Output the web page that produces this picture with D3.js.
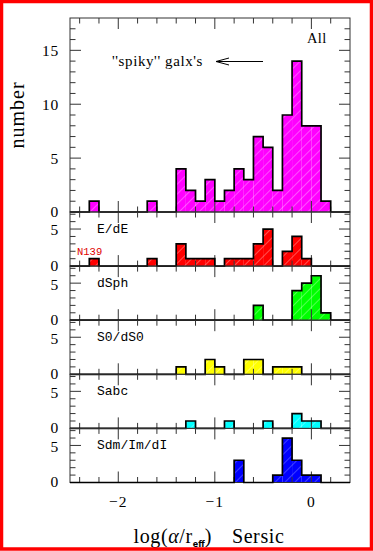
<!DOCTYPE html>
<html lang="en">
<head>
<meta charset="UTF-8">
<title>Sersic histograms</title>
<script src="https://d3js.org/d3.v7.min.js"></script>
<style>
    body { margin: 0; background: #fff; }
    svg { display: block; }
    .tickLabel { font-family: "Liberation Serif", "DejaVu Serif", serif; font-size: 15.5px; }
    .panelLabel { font-family: "Liberation Mono", "DejaVu Sans Mono", monospace; font-size: 13px; }
</style>
</head>
<body>
<svg width="373" height="551"></svg>
<script>
    // lower edge of each 0.1-wide bin
    const binLo = [-2.5, -2.4, -2.3, -2.2, -2.1, -2.0, -1.9, -1.8, -1.7, -1.6, -1.5, -1.4, -1.3, -1.2, -1.1,
        -1.0, -0.9, -0.8, -0.7, -0.6, -0.5, -0.4, -0.3, -0.2, -0.1, 0.0, 0.1, 0.2, 0.3];
    const binWidth = 0.1;

    const countsAll  = [0, 0, 1, 0, 0, 0, 0, 0, 1, 0, 0, 4, 2, 1, 3, 1, 2, 4, 3, 7, 6, 2, 9, 14, 8, 8, 1, 0, 0];
    const countsEdE  = [0, 0, 1, 0, 0, 0, 0, 0, 1, 0, 0, 3, 1, 1, 1, 0, 1, 1, 1, 3, 5, 0, 2, 4, 1, 0, 0, 0, 0];
    const countsDSph = [0, 0, 0, 0, 0, 0, 0, 0, 0, 0, 0, 0, 0, 0, 0, 0, 0, 0, 0, 2, 0, 0, 0, 4, 5, 6, 1, 0, 0];
    const countsS0   = [0, 0, 0, 0, 0, 0, 0, 0, 0, 0, 0, 1, 0, 0, 2, 1, 0, 0, 2, 2, 0, 1, 1, 1, 0, 0, 0, 0, 0];
    const countsSabc = [0, 0, 0, 0, 0, 0, 0, 0, 0, 0, 0, 0, 1, 0, 0, 0, 1, 0, 0, 0, 1, 0, 0, 2, 1, 1, 0, 0, 0];
    const countsSdm  = [0, 0, 0, 0, 0, 0, 0, 0, 0, 0, 0, 0, 0, 0, 0, 0, 0, 3, 0, 0, 0, 1, 6, 3, 1, 1, 0, 0, 0];

    const panelNames = ["All", "E/dE", "dSph", "S0/dS0", "Sabc", "Sdm/Im/dI"];
    const panelCounts = [countsAll, countsEdE, countsDSph, countsS0, countsSabc, countsSdm];
    const panelColors = ["#ff00ff", "#ff0000", "#00ff00", "#ffff00", "#00ffff", "#0000ff"];
    const panelYMax = [18, 7.3, 7.3, 7.3, 7.3, 7.3];
    const panelYTicks = [[0, 5, 10, 15], [0, 5], [0, 5], [0, 5], [0, 5], [0, 5]];
    const xTickLabels = [-2, -1, 0];

    const svg = d3.select("svg");
    const left = 70, right = 350;
    const panelTops = [18, 212, 266.1, 320.2, 374.3, 428.4];
    const panelBottoms = [212, 266.1, 320.2, 374.3, 428.4, 482.5];

    const x = d3.scaleLinear().domain([-2.5, 0.4]).range([left, right]);

    // light diagonal hatching over the fills
    const defs = svg.append("defs");
    panelColors.forEach(function (c, i) {
        const p = defs.append("pattern")
            .attr("id", "hatch" + i)
            .attr("patternUnits", "userSpaceOnUse")
            .attr("width", 7).attr("height", 7)
            .attr("patternTransform", "rotate(-45)");
        p.append("rect").attr("width", 7).attr("height", 7).attr("fill", c);
        p.append("line").attr("x1", 0).attr("x2", 7).attr("y1", 3.5).attr("y2", 3.5)
            .attr("stroke", "#fff").attr("stroke-opacity", i == 5 ? 0.35 : 0.45).attr("stroke-width", 0.7);
    });

    panelCounts.forEach(function (counts, i) {
        const y = d3.scaleLinear().domain([0, panelYMax[i]]).range([panelBottoms[i], panelTops[i]]);
        const g = svg.append("g");

        // filled bars
        g.selectAll("rect.bar")
            .data(binLo.map(function (b, k) { return { lo: b, n: counts[k] }; }).filter(function (d) { return d.n > 0; }))
            .enter().append("rect")
            .attr("x", function (d) { return x(d.lo); })
            .attr("width", function (d) { return x(d.lo + binWidth) - x(d.lo); })
            .attr("y", function (d) { return y(d.n); })
            .attr("height", function (d) { return y(0) - y(d.n); })
            .attr("fill", "url(#hatch" + i + ")");

        // frame
        g.append("rect")
            .attr("x", left).attr("y", panelTops[i])
            .attr("width", right - left).attr("height", panelBottoms[i] - panelTops[i])
            .attr("fill", "none").attr("stroke", "#333").attr("stroke-width", 1);

        // x ticks, top and bottom, inward
        const xt = d3.range(-24, 3, 2).map(function (v) { return v / 10; });
        xt.forEach(function (v) {
            const major = Math.abs(v - Math.round(v)) < 1e-6;
            const len = major ? 11 : 5.5;
            g.append("line").attr("x1", x(v)).attr("x2", x(v))
                .attr("y1", panelBottoms[i]).attr("y2", panelBottoms[i] - len)
                .attr("stroke", "#333").attr("stroke-width", 1);
            g.append("line").attr("x1", x(v)).attr("x2", x(v))
                .attr("y1", panelTops[i]).attr("y2", panelTops[i] + len)
                .attr("stroke", "#333").attr("stroke-width", 1);
        });

        // y ticks left and right, inward
        d3.range(1, Math.ceil(panelYMax[i])).forEach(function (v) {
            if (y(v) <= panelTops[i] + 0.5) return;
            const len = v % 5 == 0 ? 11 : 5.5;
            g.append("line").attr("x1", left).attr("x2", left + len)
                .attr("y1", y(v)).attr("y2", y(v)).attr("stroke", "#333");
            g.append("line").attr("x1", right).attr("x2", right - len)
                .attr("y1", y(v)).attr("y2", y(v)).attr("stroke", "#333");
        });

        // histogram outline
        const pts = binLo.map(function (b, k) { return [b, counts[k]]; });
        pts.push([0.4, counts[counts.length - 1]]);
        g.append("path")
            .attr("d", d3.line().curve(d3.curveStepAfter)
                .x(function (d) { return x(d[0]); })
                .y(function (d) { return y(d[1]); })(pts))
            .attr("fill", "none").attr("stroke", "#000").attr("stroke-width", 1.7)
            .attr("stroke-linejoin", "miter");

        // y tick labels (nudged apart a little where panels meet)
        g.selectAll("text.ylab").data(panelYTicks[i]).enter().append("text")
            .attr("class", "tickLabel")
            .attr("x", 59).attr("y", function (d) { return y(d) + (i > 0 ? (d == 0 ? -1 : 1) : 0); })
            .attr("dy", "0.35em").attr("text-anchor", "end")
            .attr("letter-spacing", 0.8)
            .text(function (d) { return d; });
    });

    // panel names
    svg.append("text").attr("x", 307).attr("y", 43)
        .attr("font-family", "Liberation Serif, serif").attr("font-size", 14.5)
        .attr("letter-spacing", 0.4)
        .text(panelNames[0]);
    panelNames.slice(1).forEach(function (name, k) {
        svg.append("text").attr("class", "panelLabel")
            .attr("x", 97).attr("y", panelTops[k + 1] + 21)
            .text(name);
    });

    svg.append("text").attr("x", 77).attr("y", 254.5)
        .attr("font-family", "Liberation Mono, monospace").attr("font-size", 10.5)
        .attr("fill", "#e00000").text("N139");

    // annotation
    svg.append("text").attr("x", 112).attr("y", 66)
        .attr("font-family", "Liberation Serif, serif").attr("font-size", 15)
        .attr("letter-spacing", 0.6)
        .text("''spiky''  galx's");
    svg.append("line").attr("x1", 216).attr("x2", 263).attr("y1", 61.5).attr("y2", 61.5)
        .attr("stroke", "#000").attr("stroke-width", 1);
    svg.append("path").attr("d", "M229,58 L216,61.5 L229,65")
        .attr("fill", "none").attr("stroke", "#000").attr("stroke-width", 1);

    // x tick labels
    svg.selectAll("text.xlab").data(xTickLabels).enter().append("text")
        .attr("class", "tickLabel")
        .attr("x", function (d) { return x(d); }).attr("y", 507)
        .attr("text-anchor", "middle")
        .attr("font-size", 17)
        .attr("letter-spacing", 1)
        .text(function (d) { return d < 0 ? "\u2212" + Math.abs(d) : d; });

    // axis titles
    const xtitle = svg.append("text").attr("x", 209).attr("y", 543)
        .attr("text-anchor", "middle")
        .attr("font-family", "Liberation Serif, serif").attr("font-size", 20)
        .attr("letter-spacing", 0.6);
    xtitle.append("tspan").text("log(");
    xtitle.append("tspan").attr("font-style", "italic").text("\u03b1");
    xtitle.append("tspan").text("/r");
    xtitle.append("tspan").attr("font-family", "DejaVu Sans, sans-serif").attr("font-weight", "bold")
        .attr("font-size", 8).attr("letter-spacing", 0).attr("dy", 4).text("eff");
    xtitle.append("tspan").attr("dy", -4).text(")");
    xtitle.append("tspan").attr("dx", 20).text("Sersic");

    svg.append("text")
        .attr("transform", "translate(24,115) rotate(-90)")
        .attr("text-anchor", "middle")
        .attr("font-family", "Liberation Serif, serif").attr("font-size", 20)
        .attr("letter-spacing", 1)
        .text("number");

    // red border
    svg.append("rect").attr("x", 1.5).attr("y", 1.5).attr("width", 370).attr("height", 547.5)
        .attr("fill", "none").attr("stroke", "#ff0000").attr("stroke-width", 3.5);
</script>
</body>
</html>
